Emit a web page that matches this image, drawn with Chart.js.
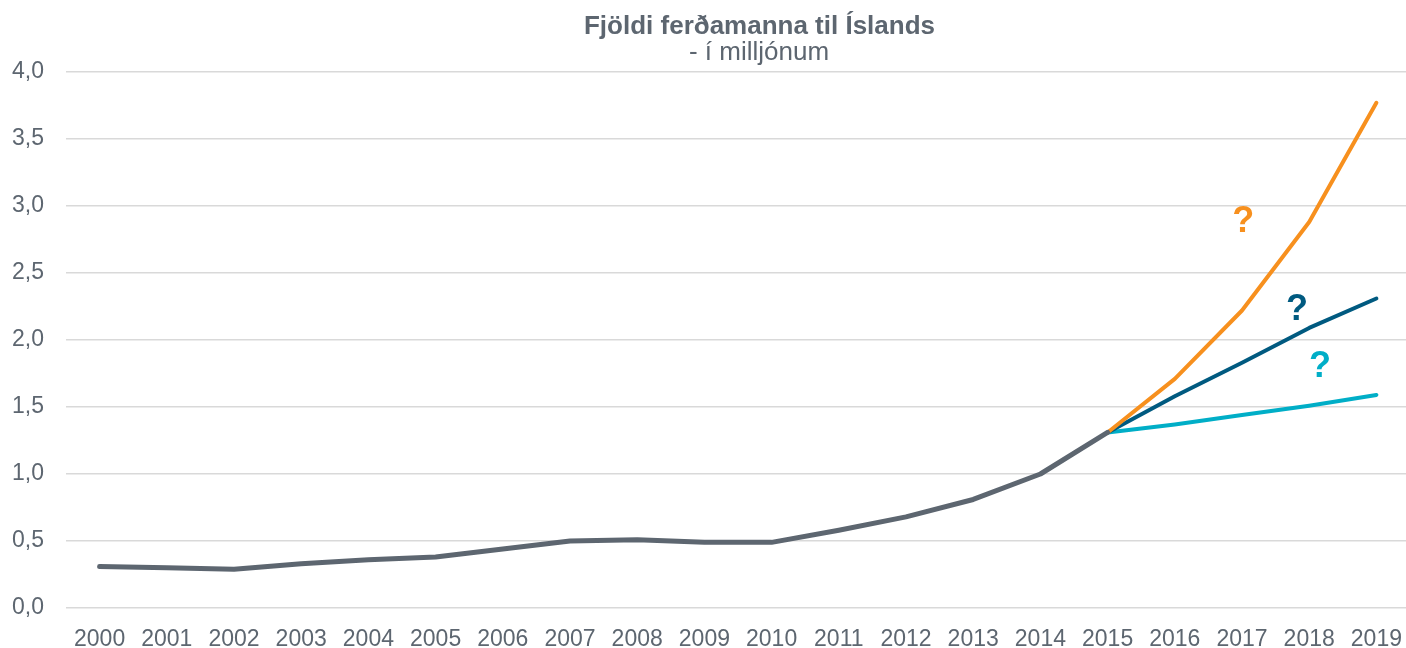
<!DOCTYPE html>
<html>
<head>
<meta charset="utf-8">
<script src="https://cdn.jsdelivr.net/npm/chart.js@4"></script>
<style>
html,body{margin:0;padding:0;background:#fff;overflow:hidden;}
#wrap{position:relative;width:1406px;height:648px;overflow:hidden;}
canvas{display:block;}
</style>
</head>
<body>
<div id="wrap"><canvas id="c" width="1410" height="648" style="width:1410px;height:648px"></canvas></div>
<script>
const years = ['2000','2001','2002','2003','2004','2005','2006','2007','2008','2009','2010','2011','2012','2013','2014','2015','2016','2017','2018','2019'];
const actual = [0.31,0.30,0.29,0.33,0.36,0.38,0.44,0.50,0.51,0.49,0.49,0.58,0.68,0.81,1.00,1.31,null,null,null,null];
const highScenario = [null,null,null,null,null,null,null,null,null,null,null,null,null,null,null,1.31,1.71,2.22,2.88,3.77];
const midScenario  = [null,null,null,null,null,null,null,null,null,null,null,null,null,null,null,1.31,1.58,1.83,2.09,2.31];
const lowScenario  = [null,null,null,null,null,null,null,null,null,null,null,null,null,null,null,1.31,1.37,1.44,1.51,1.59];
const yTicks = [0,0.5,1,1.5,2,2.5,3,3.5,4];
const titleText = 'Fjöldi ferðamanna til Íslands';
const subtitleText = '- í milljónum';
const marks = [
  {text:'?', x:17.02, y:2.88, color:'#F7901E'},
  {text:'?', x:17.82, y:2.22, color:'#005A80'},
  {text:'?', x:18.16, y:1.80, color:'#00AEC7'}
];

const FONT = "'Liberation Sans', Arial, sans-serif";
const TXT = '#5D6670';

const overlay = {
  id:'overlay',
  afterDraw(chart){
    const ctx = chart.ctx;
    ctx.save();
    ctx.textAlign = 'center';
    ctx.textBaseline = 'alphabetic';
    ctx.fillStyle = TXT;
    ctx.font = "bold 26px " + FONT;
    ctx.fillText(titleText, 759.5, 34);
    ctx.font = "26px " + FONT;
    ctx.fillText(subtitleText, 759, 60);
    const xs = chart.scales.x, ys = chart.scales.y;
    ctx.textBaseline = 'middle';
    ctx.font = "bold 36px " + FONT;
    marks.forEach(m=>{
      ctx.fillStyle = m.color;
      ctx.fillText(m.text, xs.getPixelForValue(m.x), ys.getPixelForValue(m.y));
    });
    ctx.restore();
  }
};

const common = {pointRadius:0, pointHoverRadius:0, tension:0, borderCapStyle:'round', borderJoinStyle:'round', spanGaps:false, fill:false};

new Chart(document.getElementById('c'), {
  type:'line',
  data:{
    labels: years,
    datasets:[
      Object.assign({label:'Raun', data:actual, borderColor:'#5D6670', borderWidth:5, order:0}, common),
      Object.assign({label:'Hátt', data:highScenario, borderColor:'#F7901E', borderWidth:4, order:1}, common),
      Object.assign({label:'Miðja', data:midScenario, borderColor:'#005A80', borderWidth:4, order:2}, common),
      Object.assign({label:'Lágt', data:lowScenario, borderColor:'#00AEC7', borderWidth:4, order:3}, common)
    ]
  },
  options:{
    responsive:false,
    animation:false,
    events:[],
    layout:{padding:{top:72, right:0, left:0, bottom:0}},
    plugins:{legend:{display:false}, tooltip:{enabled:false}, title:{display:false}},
    scales:{
      x:{
        offset:true,
        grid:{display:false, drawTicks:false},
        border:{display:false},
        ticks:{color:TXT, font:{family:FONT, size:23}, padding:18, maxRotation:0, autoSkip:false},
        afterFit(s){ s.height = 40; s.paddingLeft = 0; s.paddingRight = 0; }
      },
      y:{
        min:0, max:4,
        afterBuildTicks(s){ s.ticks = yTicks.map(v=>({value:v})); },
        grid:{color:'#D9D9D9', lineWidth:1.5, drawTicks:false},
        border:{display:false},
        ticks:{color:TXT, font:{family:FONT, size:23}, padding:22, callback:v=>v.toFixed(1).replace('.',',')},
        afterFit(s){ s.width = 66; s.paddingTop = 0; s.paddingBottom = 0; }
      }
    }
  },
  plugins:[overlay]
});
</script>
</body>
</html>
